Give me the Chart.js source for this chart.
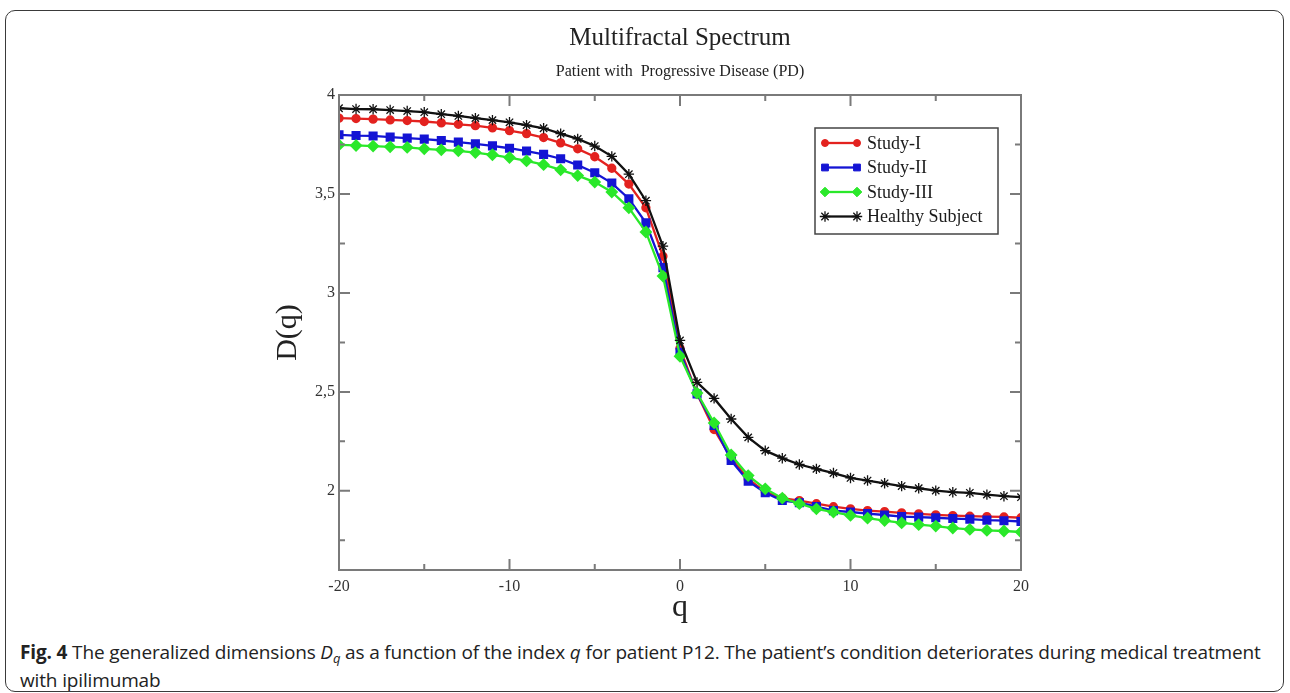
<!DOCTYPE html>
<html>
<head>
<meta charset="utf-8">
<script src="https://cdn.jsdelivr.net/npm/chart.js@4.4.0/dist/chart.umd.min.js"></script>
<style>
  html, body { margin:0; padding:0; background:#fff; overflow:hidden; }
  #fig { position:absolute; left:5px; top:10px; width:1277px; height:680px; border:1.5px solid #3a3a3a; border-radius:10px; }
  #wrap { position:absolute; left:0; top:0; width:1290px; height:630px; }
  #caption { position:absolute; left:20px; top:638px; width:1265px; white-space:nowrap; font-family:"Open Sans", sans-serif; font-size:19px; line-height:28px; color:#222; letter-spacing:-0.15px; }
  #caption b { font-weight:700; }
  #caption sub { font-size:13px; line-height:0; vertical-align:-4px; }
</style>
</head>
<body>
<div id="fig"></div>
<div id="wrap"><canvas id="spectrum"></canvas></div>
<div id="caption"><b>Fig. 4</b> The generalized dimensions <i>D<sub>q</sub></i> as a function of the index <i>q</i> for patient P12. The patient’s condition deteriorates during medical treatment<br>with ipilimumab</div>
<script>
// q values and D(q) for each series
const qValues = [-20,-19,-18,-17,-16,-15,-14,-13,-12,-11,-10,-9,-8,-7,-6,-5,-4,-3,-2,-1,0,1,2,3,4,5,6,7,8,9,10,11,12,13,14,15,16,17,18,19,20];
const studyI = [3.883,3.881,3.878,3.874,3.871,3.866,3.859,3.852,3.845,3.834,3.82,3.805,3.785,3.758,3.728,3.688,3.63,3.55,3.43,3.185,2.72,
  2.49,2.31,2.165,2.06,1.995,1.963,1.951,1.935,1.92,1.909,1.90,1.895,1.889,1.884,1.879,1.875,1.872,1.87,1.868,1.864];
const studyII = [3.799,3.795,3.793,3.787,3.782,3.777,3.77,3.762,3.753,3.743,3.731,3.717,3.70,3.678,3.646,3.607,3.555,3.476,3.354,3.128,2.70,
  2.49,2.33,2.153,2.049,1.99,1.951,1.94,1.92,1.90,1.893,1.885,1.878,1.87,1.867,1.864,1.86,1.857,1.852,1.849,1.845];
const studyIII = [3.748,3.745,3.742,3.738,3.735,3.728,3.723,3.718,3.709,3.698,3.684,3.667,3.648,3.622,3.593,3.56,3.51,3.43,3.308,3.085,2.68,
  2.494,2.343,2.181,2.077,2.01,1.963,1.935,1.909,1.893,1.876,1.862,1.85,1.838,1.829,1.822,1.812,1.805,1.80,1.797,1.792];
const healthy = [3.933,3.929,3.928,3.924,3.919,3.913,3.903,3.894,3.883,3.873,3.862,3.848,3.832,3.805,3.778,3.742,3.69,3.60,3.466,3.236,2.76,
  2.548,2.467,2.363,2.27,2.203,2.165,2.133,2.111,2.09,2.065,2.052,2.038,2.024,2.013,2.001,1.993,1.99,1.981,1.973,1.968];

const xTicks = [-20,-10,0,10,20];
const xMinor = [-15,-5,5,15];
const yTicks = [2,2.5,3,3.5,4];
const yMinor = [1.75,2.25,2.75,3.25,3.75];

const serif = '"Liberation Serif", "Times New Roman", serif';
const pts = arr => qValues.map((q,i) => ({x:q, y:arr[i]}));

// frame + inward ticks on all four sides
const frameTicks = {
  id:'frameTicks',
  afterDatasetsDraw(chart) {
    const {ctx, chartArea:a, scales:{x, y}} = chart;
    ctx.save();
    ctx.strokeStyle = '#7a7a7a';
    ctx.lineWidth = 2;
    ctx.strokeRect(a.left, a.top, a.right - a.left, a.bottom - a.top);
    ctx.beginPath();
    const tick = (vals, len) => {
      vals.forEach(v => {
        const px = x.getPixelForValue(v);
        ctx.moveTo(px, a.bottom); ctx.lineTo(px, a.bottom - len);
        ctx.moveTo(px, a.top); ctx.lineTo(px, a.top + len);
      });
    };
    const ytick = (vals, len) => {
      vals.forEach(v => {
        const py = y.getPixelForValue(v);
        ctx.moveTo(a.left, py); ctx.lineTo(a.left + len, py);
        ctx.moveTo(a.right, py); ctx.lineTo(a.right - len, py);
      });
    };
    tick(xTicks, 11); tick(xMinor, 6);
    ytick(yTicks, 11); ytick(yMinor, 6);
    ctx.stroke();
    ctx.restore();
  }
};

// titles centred over the plot area
const titles = {
  id:'titles',
  afterDraw(chart) {
    const {ctx, chartArea:a} = chart;
    const cx = (a.left + a.right) / 2;
    ctx.save();
    ctx.fillStyle = '#222';
    ctx.textAlign = 'center';
    ctx.textBaseline = 'middle';
    ctx.font = '25px ' + serif;
    ctx.fillText('Multifractal Spectrum', cx, 38);
    ctx.font = '16px ' + serif;
    ctx.fillText('Patient with  Progressive Disease (PD)', cx, 72);
    ctx.restore();
  }
};

// boxed legend inside the plot, upper right
const boxLegend = {
  id:'boxLegend',
  afterDraw(chart) {
    const {ctx} = chart;
    const items = [0,1,2,3];
    const bx = 815, by = 128, bw = 183, bh = 106;
    ctx.save();
    ctx.fillStyle = '#fff';
    ctx.fillRect(bx, by, bw, bh);
    ctx.strokeStyle = '#444';
    ctx.lineWidth = 1.5;
    ctx.strokeRect(bx, by, bw, bh);
    items.forEach((i, k) => {
      const ds = chart.data.datasets[i];
      const cy = by + 15 + k * 24.5;
      ctx.strokeStyle = ds.borderColor;
      ctx.lineWidth = 2.3;
      ctx.beginPath(); ctx.moveTo(825, cy); ctx.lineTo(857, cy); ctx.stroke();
      const st = {pointStyle: ds.pointStyle, radius: ds.pointRadius, borderWidth: ds.pointBorderWidth || 1, rotation: 0};
      ctx.fillStyle = ds.pointBackgroundColor;
      ctx.strokeStyle = ds.borderColor;
      ctx.lineWidth = st.borderWidth;
      Chart.helpers.drawPoint(ctx, st, 825, cy);
      Chart.helpers.drawPoint(ctx, st, 857, cy);
      ctx.fillStyle = '#1a1a1a';
      ctx.font = '18px ' + serif;
      ctx.textBaseline = 'middle';
      ctx.fillText(ds.label, 867, cy + 1);
    });
    ctx.restore();
  }
};

new Chart(document.getElementById('spectrum'), {
  type:'line',
  data:{
    datasets:[
      {label:'Study-I', data:pts(studyI), borderColor:'#e3221f', pointBackgroundColor:'#e3221f', pointStyle:'circle', pointRadius:3.5, borderWidth:2.3, order:3},
      {label:'Study-II', data:pts(studyII), borderColor:'#1414d4', pointBackgroundColor:'#1414d4', pointStyle:'rect', pointRadius:4.8, borderWidth:2.3, order:2},
      {label:'Study-III', data:pts(studyIII), borderColor:'#2ae82a', pointBackgroundColor:'#2ae82a', pointStyle:'rectRot', pointRadius:4.8, borderWidth:2.3, order:1},
      {label:'Healthy Subject', data:pts(healthy), borderColor:'#111', pointBackgroundColor:'#111', pointStyle:'star', pointRadius:5.2, pointBorderWidth:1.3, borderWidth:2.3, order:0}
    ]
  },
  options:{
    responsive:true, maintainAspectRatio:false, animation:false,
    layout:{padding:{top:95, right:269, bottom:0, left:0}},
    plugins:{legend:{display:false}, tooltip:{enabled:false}},
    elements:{line:{tension:0}},
    scales:{
      x:{
        type:'linear', min:-20, max:20,
        grid:{display:false, drawTicks:false}, border:{display:false},
        afterBuildTicks: s => { s.ticks = xTicks.map(v => ({value:v})); },
        afterFit: s => { s.height = 60; },
        ticks:{font:{family:serif, size:16}, color:'#333', padding:7, maxRotation:0},
        title:{display:true, text:'q', font:{family:serif, size:32}, color:'#222', padding:{top:0, bottom:3}}
      },
      y:{
        type:'linear', min:1.6, max:4,
        grid:{display:false, drawTicks:false}, border:{display:false},
        afterBuildTicks: s => { s.ticks = yTicks.map(v => ({value:v})); },
        afterFit: s => { s.width = 339; },
        ticks:{font:{family:serif, size:16}, color:'#333', padding:4, callback: v => String(v).replace('.', ',')},
        title:{display:true, text:'D(q)', font:{family:serif, size:30}, color:'#222', padding:{top:270, bottom:0}}
      }
    }
  },
  plugins:[frameTicks, titles, boxLegend]
});
</script>
</body>
</html>
